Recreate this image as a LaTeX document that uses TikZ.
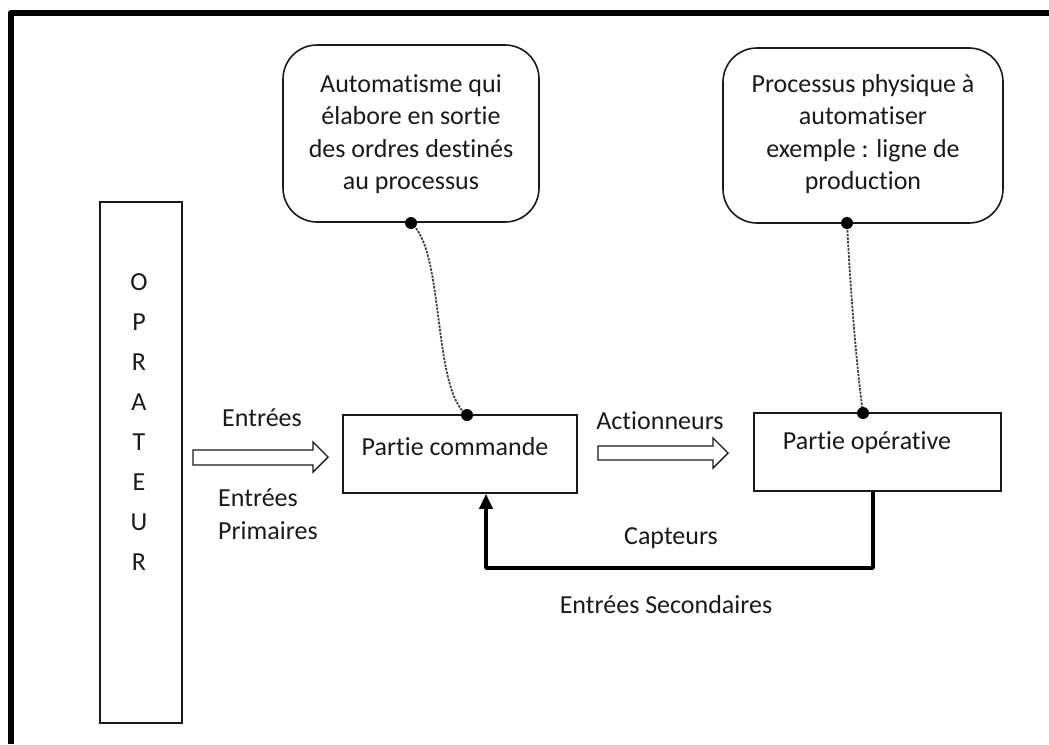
\documentclass[tikz,border=0pt]{standalone}
\usepackage{fontspec}
\setmainfont{Carlito}[Ligatures={NoCommon}]
\usetikzlibrary{arrows.meta}
\definecolor{ink}{HTML}{1A1A1A}
\tikzset{
  txt/.style={font=\fontsize{26}{32.5}\selectfont, text=ink, inner sep=0pt},
  boxline/.style={draw=ink, line width=1.6pt},
  note/.style={boxline, rounded corners=34pt},
  hollow/.style={draw=ink, line width=1.4pt, fill=white},
  tether/.style={draw=black!75, line width=1.8pt, dash pattern=on 2.4pt off 1.2pt},
  dotend/.style={circle, fill=black, inner sep=0pt, minimum size=12pt},
  feedback/.style={draw=black, line width=3.5pt, -{Triangle[length=15pt,width=13pt]}}
}
\begin{document}
\begin{tikzpicture}[x=1pt,y=-1pt]
\useasboundingbox (0,0) rectangle (1049,744);
% frame (only top and left edges visible)
\draw[line width=6pt, line join=round] (10.5,744) -- (10.5,13) -- (1049,13);

% OPERATEUR column
\node[boxline, minimum width=82pt, minimum height=521pt, inner sep=0pt] (op) at (141,462.5) {};
\foreach \L [count=\i from 0] in {O,P,R,A,T,E,U,R}
  \node[txt] (op\i) at (139,{282+40*\i}) {\L};

% main boxes
\node[boxline, minimum width=234pt, minimum height=78pt, inner sep=0pt] (pc) at (460,454) {};
\node[txt] (pctext) at (455,447) {Partie commande};
\node[boxline, minimum width=247pt, minimum height=78pt, inner sep=0pt] (po) at (877.5,452) {};
\node[txt] (potext) at (867,443) {Partie opérative};

% rounded notes
\node[note, minimum width=256pt, minimum height=177pt, inner sep=0pt] (n1) at (411,133.5) {};
\node[txt, align=center] (n1text) at (411,134) {Automatisme qui\\élabore en sortie\\des ordres destinés\\au processus};
\node[note, minimum width=280pt, minimum height=175pt, inner sep=0pt] (n2) at (863,135.5) {};
\node[txt, align=center] (n2text) at (863,134) {Processus physique à\\automatiser\\exemple : ligne de\\production};

% tethers
\coordinate (t1a) at (411,223);
\coordinate (t1b) at (467,415);
\coordinate (t2a) at (847,223);
\coordinate (t2b) at (863,413);
\draw[tether] (t1a) .. controls (445,250) and (432,390) .. (t1b);
\draw[tether] (t2a) .. controls (851,300) and (857,370) .. (t2b);
\node[dotend] (d1a) at (t1a) {};
\node[dotend] (d1b) at (t1b) {};
\node[dotend] (d2a) at (t2a) {};
\node[dotend] (d2b) at (t2b) {};

% hollow arrows
\draw[hollow] (193,450) -- (313,450) -- (313,442) -- (328,457) -- (313,472) -- (313,465) -- (193,465) -- cycle;
\draw[hollow] (598,446) -- (713,446) -- (713,438) -- (728,453) -- (713,468) -- (713,460) -- (598,460) -- cycle;

% labels
\node[txt] (lentrees) at (262,418) {Entrées};
\node[txt, anchor=west] (lentrees2) at (218,498) {Entrées};
\node[txt, anchor=west] (lprim) at (218,531) {Primaires};
\node[txt] (lact) at (660,421) {Actionneurs};
\node[txt] (lcapt) at (671,538) {Capteurs};
\node[txt] (lsec) at (666,605) {Entrées Secondaires};

% feedback loop
\coordinate (fbr) at (873,568);
\coordinate (fbl) at (486,568);
\draw[feedback, line join=round] (po.south -| fbr) -- (fbr) -- (fbl) -- (pc.south -| fbl);
\end{tikzpicture}
\end{document}
